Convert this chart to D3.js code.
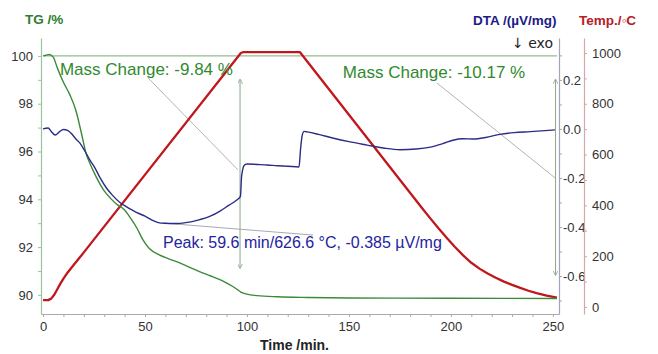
<!DOCTYPE html>
<html>
<head>
<meta charset="utf-8">
<script src="https://cdn.jsdelivr.net/npm/d3@7"></script>
<style>
	body { margin: 0; background: #fff; }
	text { font-family: "Liberation Sans", Arial, sans-serif; }
</style>
</head>
<body>
<svg id="chart" width="658" height="354"></svg>
<script>
const WIDTH = 658;
const HEIGHT = 354;
const PLOT_LEFT = 41;
const PLOT_RIGHT = 559;
const PLOT_TOP = 38;
const PLOT_BOT = 314;
const TEMP_AXIS_X = 584;
const LABEL_COLOR = "#333";

// TG curve (time /min, mass /%)
const tgTime = [0, 1.5, 3, 5, 7, 10, 13, 16, 19, 21, 23, 26, 30, 33, 36, 40, 43, 46, 49, 52, 57, 62, 67, 72, 77, 82, 87, 91, 94, 97, 100, 105, 115, 130, 150, 200, 252];
const tgValue = [100, 100.03, 100.06, 99.95, 99.5, 98.9, 98.4, 97.75, 96.7, 95.95, 95.5, 94.95, 94.35, 94.05, 93.8, 93.55, 93.2, 92.8, 92.3, 91.95, 91.67, 91.5, 91.34, 91.15, 90.96, 90.8, 90.63, 90.45, 90.3, 90.12, 90.03, 89.97, 89.92, 89.89, 89.87, 89.86, 89.85];

// DTA curve (time /min, µV/mg)
const dtaTime = [0, 2.5, 4, 6, 8, 10, 12, 14, 16, 18, 20.5, 23, 25.5, 28, 31, 34, 37.7, 41, 44, 47, 50, 53, 56.5, 59.6, 65, 70, 76, 82, 87, 91, 95, 96.8, 97.3, 97.8, 98.5, 100, 105, 110, 115, 120, 125.5, 126.3, 127, 128, 129.5, 135, 142, 150, 159, 167, 175, 183, 190, 196, 201, 206, 211, 217, 224, 231, 239, 251];
const dtaValue = [0, 0.004, -0.01, -0.025, -0.012, -0.002, -0.006, -0.02, -0.04, -0.057, -0.09, -0.127, -0.16, -0.2, -0.24, -0.27, -0.3, -0.318, -0.332, -0.345, -0.356, -0.37, -0.382, -0.385, -0.386, -0.382, -0.372, -0.356, -0.334, -0.312, -0.29, -0.275, -0.2, -0.17, -0.15, -0.143, -0.145, -0.147, -0.15, -0.152, -0.155, -0.08, -0.03, -0.01, -0.012, -0.022, -0.037, -0.052, -0.066, -0.078, -0.085, -0.082, -0.074, -0.06, -0.046, -0.04, -0.041, -0.035, -0.022, -0.015, -0.011, -0.004];

// Temperature program (time /min, °C)
const tempTime = [0, 2.5, 4, 5.5, 7, 8.5, 10, 12, 15, 20, 97, 98, 126, 186, 190, 194, 198, 202, 206, 210, 214, 218, 222, 226, 230, 234, 238, 242, 247, 252];
const tempValue = [27, 27, 33, 48, 70, 92, 112, 135, 165, 215, 1000, 1003, 1003, 388, 348, 309, 272, 236, 203, 174, 151, 132, 115, 100, 87, 75, 64, 55, 45, 37];

// tick values
const timeTicks = [0, 50, 100, 150, 200, 250];
const tgTicks = [90, 92, 94, 96, 98, 100];
const dtaTicks = [-0.6, -0.4, -0.2, 0.0, 0.2];
const tempTicks = [0, 200, 400, 600, 800, 1000];

// annotations
const massLabels = ["Mass Change: -9.84 %", "Mass Change: -10.17 %"];
const massLabelTime = [8.3, 147];
const massLabelTG = [99.2, 99.08];
const arrowTime = [96.6, 251.3];
const arrowTop = [99.0, 99.0];
const arrowBot = [91.13, 90.84];
const leaderFrom = [[51.5, 99.08], [193.1, 98.87]];
const leaderTo = [[95.6, 95.23], [251, 94.9]];
const peakLabel = "Peak: 59.6 min/626.6 °C, -0.385 µV/mg";
const peakLine = [[58.8, -0.384], [132.4, -0.433]];

var svg = d3.select("#chart");

var xScale = d3.scaleLinear().domain([-1, 253]).range([PLOT_LEFT, PLOT_RIGHT]),
	tgScale = d3.scaleLinear().domain([89.2, 100.75]).range([PLOT_BOT, PLOT_TOP]),
	dtaScale = d3.scaleLinear().domain([-0.755, 0.371]).range([PLOT_BOT, PLOT_TOP]),
	tempScale = d3.scaleLinear().domain([-27.6, 1059]).range([PLOT_BOT, PLOT_TOP]);

svg.append("rect").attr("width", WIDTH).attr("height", HEIGHT).attr("fill", "#fff");

svg.append("defs").append("marker")
	.attr("id", "head")
	.attr("viewBox", "0 0 6 6")
	.attr("refX", 5).attr("refY", 3)
	.attr("markerWidth", 5).attr("markerHeight", 5)
	.attr("orient", "auto-start-reverse")
  .append("path")
	.attr("d", "M0,0 L6,3 L0,6")
	.attr("fill", "none")
	.attr("stroke", "#8aa88a")
	.attr("stroke-width", 1);

function styleAxis(g, color) {
	g.select(".domain").attr("stroke", color).attr("stroke-width", 1.2);
	g.selectAll(".tick line").attr("stroke", color);
	g.selectAll(".tick text")
		.attr("fill", LABEL_COLOR)
		.style("font-size", "13px")
		.style("font-family", "'Liberation Sans', Arial, sans-serif");
}

// bottom (time) axis
var xAxis = d3.axisBottom(xScale)
	.tickValues(d3.range(0, 251, 10))
	.tickSize(3).tickSizeOuter(0).tickPadding(5)
	.tickFormat(function(d) { return timeTicks.indexOf(d) >= 0 ? d : ""; });
svg.append("g")
	.attr("transform", "translate(0," + PLOT_BOT + ")")
	.call(xAxis)
	.call(styleAxis, "#aaa");

// left TG axis
var tgAxis = d3.axisLeft(tgScale)
	.tickValues(d3.range(90, 101, 1))
	.tickSize(3).tickSizeOuter(0).tickPadding(5)
	.tickFormat(function(d) { return tgTicks.indexOf(d) >= 0 ? d : ""; });
svg.append("g")
	.attr("transform", "translate(" + PLOT_LEFT + ",0)")
	.call(tgAxis)
	.call(styleAxis, "#9cc49c");

// right DTA axis
var dtaMinor = d3.range(-7, 4).map(function(i) { return i / 10; });
var dtaAxis = d3.axisRight(dtaScale)
	.tickValues(dtaMinor)
	.tickSize(3).tickSizeOuter(0).tickPadding(1)
	.tickFormat(function(d) {
		var hit = dtaTicks.some(function(v) { return Math.abs(v - d) < 1e-9; });
		return hit ? d.toFixed(1) : "";		// plain hyphen, not unicode minus
	});
svg.append("g")
	.attr("transform", "translate(" + PLOT_RIGHT + ",0)")
	.call(dtaAxis)
	.call(styleAxis, "#a3a3bd");

// temperature axis
var tempAxis = d3.axisRight(tempScale)
	.tickValues(d3.range(0, 1001, 100))
	.tickSize(3).tickSizeOuter(0).tickPadding(5)
	.tickFormat(function(d) { return tempTicks.indexOf(d) >= 0 ? d : ""; });
svg.append("g")
	.attr("transform", "translate(" + TEMP_AXIS_X + ",0)")
	.call(tempAxis)
	.call(styleAxis, "#d4a8a8");

// 100 % reference line
svg.append("line")
	.attr("x1", xScale(0)).attr("x2", xScale(252))
	.attr("y1", tgScale(100)).attr("y2", tgScale(100))
	.attr("stroke", "#94bb94").attr("stroke-width", 1.2);

// leader lines
for (var i = 0; i < leaderFrom.length; i++) {
	svg.append("line")
		.attr("x1", xScale(leaderFrom[i][0])).attr("y1", tgScale(leaderFrom[i][1]))
		.attr("x2", xScale(leaderTo[i][0])).attr("y2", tgScale(leaderTo[i][1]))
		.attr("stroke", "#b4b4b4").attr("stroke-width", 1);
}
svg.append("line")
	.attr("x1", xScale(peakLine[0][0])).attr("y1", dtaScale(peakLine[0][1]))
	.attr("x2", xScale(peakLine[1][0])).attr("y2", dtaScale(peakLine[1][1]))
	.attr("stroke", "#a8a8b4").attr("stroke-width", 1);

// mass change arrows
for (var i = 0; i < arrowTime.length; i++) {
	svg.append("line")
		.attr("x1", xScale(arrowTime[i])).attr("x2", xScale(arrowTime[i]))
		.attr("y1", tgScale(arrowTop[i])).attr("y2", tgScale(arrowBot[i]))
		.attr("stroke", "#8aa88a").attr("stroke-width", 1)
		.attr("marker-start", "url(#head)")
		.attr("marker-end", "url(#head)");
}

// curves
var tgLine = d3.line()
	.x(function(d) { return xScale(tgTime[d]); })
	.y(function(d) { return tgScale(tgValue[d]); })
	.curve(d3.curveMonotoneX);
var dtaLine = d3.line()
	.x(function(d) { return xScale(dtaTime[d]); })
	.y(function(d) { return dtaScale(dtaValue[d]); })
	.curve(d3.curveMonotoneX);
var tempLine = d3.line()
	.x(function(d) { return xScale(tempTime[d]); })
	.y(function(d) { return tempScale(tempValue[d]); });	// linear ramps, sharp corners

svg.append("path")
	.attr("d", tempLine(d3.range(tempTime.length)))
	.attr("fill", "none").attr("stroke", "#c0171c").attr("stroke-width", 2.3)
	.attr("stroke-linejoin", "round");
svg.append("path")
	.attr("d", tgLine(d3.range(tgTime.length)))
	.attr("fill", "none").attr("stroke", "#3b8a3b").attr("stroke-width", 1.4);
svg.append("path")
	.attr("d", dtaLine(d3.range(dtaTime.length)))
	.attr("fill", "none").attr("stroke", "#2c2c86").attr("stroke-width", 1.4);

// annotation text
for (var i = 0; i < massLabels.length; i++) {
	svg.append("text")
		.attr("x", xScale(massLabelTime[i]))
		.attr("y", tgScale(massLabelTG[i]))
		.attr("font-size", "17px")
		.attr("fill", "#2f8a2f")
		.text(massLabels[i]);
}
svg.append("text")
	.attr("x", xScale(58.8))
	.attr("y", dtaScale(-0.486))
	.attr("font-size", "16px")
	.attr("fill", "#2424a0")
	.text(peakLabel);

svg.append("text")
	.attr("x", 553).attr("y", 48)
	.attr("text-anchor", "end")
	.attr("font-size", "14px")
	.attr("fill", "#222")
	.style("font-family", "'DejaVu Sans', sans-serif")
	.text("↓ exo");

// axis titles
svg.append("text")
	.attr("x", 25).attr("y", 24)
	.attr("font-size", "13.5px").attr("font-weight", "bold")
	.attr("fill", "#2e7d32")
	.text("TG /%");
svg.append("text")
	.attr("x", 473).attr("y", 25)
	.attr("font-size", "13.5px").attr("font-weight", "bold")
	.attr("fill", "#1c1c88")
	.text("DTA /(µV/mg)");
svg.append("text")
	.attr("x", 579).attr("y", 25)
	.attr("font-size", "13.5px").attr("font-weight", "bold")
	.attr("fill", "#b52025")
	.text("Temp./◦C");
svg.append("text")
	.attr("x", 260).attr("y", 350)
	.attr("font-size", "14px").attr("font-weight", "bold")
	.attr("fill", "#222")
	.text("Time /min.");
</script>
</body>
</html>
